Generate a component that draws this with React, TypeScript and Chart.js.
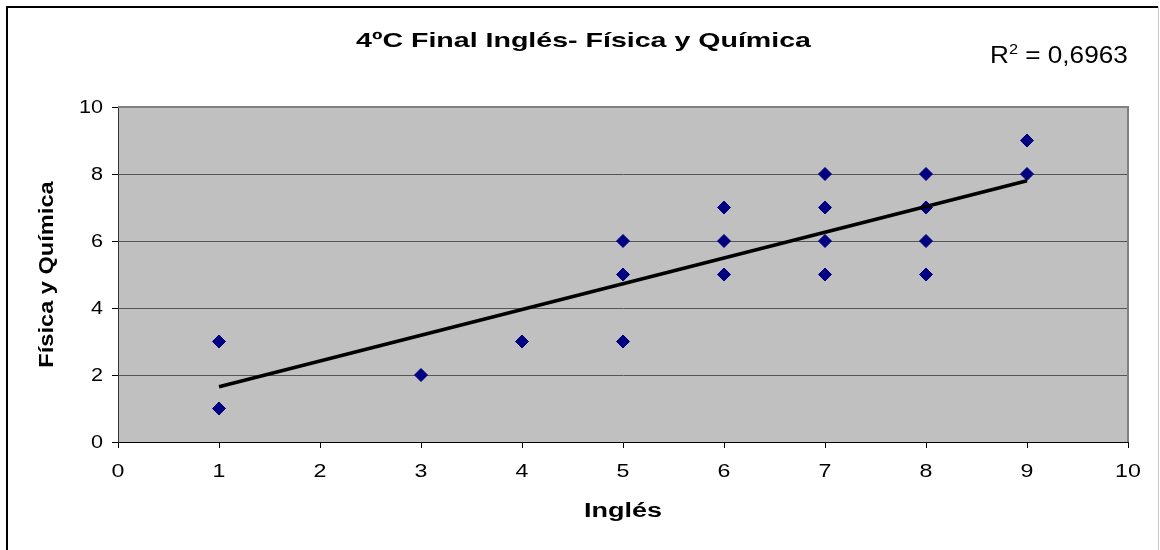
import React, { useEffect, useRef } from "react";
import { Chart, registerables } from "chart.js";

Chart.register(...registerables);

// Scores: English final grade (x) vs Physics & Chemistry final grade (y)
const inglesScores = [1, 1, 3, 4, 5, 5, 5, 6, 6, 6, 7, 7, 7, 7, 8, 8, 8, 8, 9, 9];
const fisicaQuimicaScores = [3, 1, 2, 3, 6, 5, 3, 7, 6, 5, 8, 7, 6, 5, 8, 7, 6, 5, 9, 8];

// Linear trendline end points
const trendX = [1, 9];
const trendY = [1.65, 7.8];

const xTickValues = [0, 1, 2, 3, 4, 5, 6, 7, 8, 9, 10];
const yTickValues = [0, 2, 4, 6, 8, 10];

const chartTitle = "4ºC Final Inglés- Física y Química";
const xAxisTitle = "Inglés";
const yAxisTitle = "Física y Química";
const rSquaredValue = "0,6963";

const FONT = "'Liberation Sans', Arial, sans-serif";

// Draws text squeezed/stretched horizontally around its anchor
function drawText(
  ctx: CanvasRenderingContext2D,
  text: string,
  x: number,
  y: number,
  font: string,
  sx: number,
  align: CanvasTextAlign
) {
  ctx.save();
  ctx.translate(x, y);
  ctx.scale(sx, 1);
  ctx.font = font;
  ctx.textAlign = align;
  ctx.textBaseline = "alphabetic";
  ctx.fillText(text, 0, 0);
  ctx.restore();
}

const decorPlugin = {
  id: "decor",
  beforeDraw(chart: any) {
    const { ctx, chartArea, width, height } = chart;
    ctx.save();
    ctx.fillStyle = "#ffffff";
    ctx.fillRect(0, 0, width, height);
    ctx.fillStyle = "#c0c0c0";
    ctx.fillRect(
      chartArea.left,
      chartArea.top,
      chartArea.right - chartArea.left,
      chartArea.bottom - chartArea.top
    );
    ctx.restore();
  },
  afterDraw(chart: any) {
    const { ctx, chartArea } = chart;
    const { left, right, top, bottom } = chartArea;
    const xScale = chart.scales.x;
    const yScale = chart.scales.y;
    ctx.save();

    // plot area top/right frame
    ctx.strokeStyle = "#808080";
    ctx.lineWidth = 2;
    ctx.beginPath();
    ctx.moveTo(left, top);
    ctx.lineTo(right, top);
    ctx.lineTo(right, bottom);
    ctx.stroke();

    // outer chart frame
    ctx.strokeStyle = "#000000";
    ctx.lineWidth = 2;
    ctx.beginPath();
    ctx.moveTo(7, 560);
    ctx.lineTo(7, 7);
    ctx.lineTo(1158, 7);
    ctx.stroke();
    ctx.strokeStyle = "#c8c8c8";
    ctx.lineWidth = 1;
    ctx.beginPath();
    ctx.moveTo(1158.5, 7);
    ctx.lineTo(1158.5, 560);
    ctx.stroke();

    ctx.fillStyle = "#000000";

    // tick labels
    yTickValues.forEach((v) => {
      const py = yScale.getPixelForValue(v);
      drawText(ctx, String(v), 103, py + 5.5, `18px ${FONT}`, 1.2, "right");
    });
    xTickValues.forEach((v) => {
      const px = xScale.getPixelForValue(v);
      drawText(ctx, String(v), px, 477, `19px ${FONT}`, 1.22, "center");
    });

    // title
    drawText(ctx, chartTitle, 583.5, 47, `bold 21px ${FONT}`, 1.36, "center");

    // R² label
    ctx.save();
    ctx.translate(990, 63);
    ctx.scale(1.09, 1);
    ctx.textBaseline = "alphabetic";
    ctx.textAlign = "left";
    let x = 0;
    ctx.font = `24px ${FONT}`;
    ctx.fillText("R", x, 0);
    x += ctx.measureText("R").width;
    ctx.font = `15px ${FONT}`;
    ctx.fillText("2", x, -9);
    x += ctx.measureText("2").width;
    ctx.font = `24px ${FONT}`;
    ctx.fillText(" = " + rSquaredValue, x, 0);
    ctx.restore();

    // x axis title
    drawText(ctx, xAxisTitle, (left + right) / 2, 517, `bold 20px ${FONT}`, 1.35, "center");

    // y axis title
    ctx.save();
    ctx.translate(53, (top + bottom) / 2);
    ctx.rotate(-Math.PI / 2);
    drawText(ctx, yAxisTitle, 0, 0, `bold 20px ${FONT}`, 1.18, "center");
    ctx.restore();

    ctx.restore();
  },
};

export default function App() {
  const canvasRef = useRef<HTMLCanvasElement | null>(null);

  useEffect(() => {
    if (!canvasRef.current) return;
    const chart = new Chart(canvasRef.current, {
      type: "scatter",
      data: {
        datasets: [
          {
            type: "scatter",
            label: "Física y Química",
            data: inglesScores.map((x, i) => ({ x, y: fisicaQuimicaScores[i] })),
            pointStyle: "rectRot",
            pointRadius: 6.5,
            pointBorderWidth: 1,
            backgroundColor: "#000080",
            borderColor: "#000080",
            order: 2,
          },
          {
            type: "line",
            label: "Lineal",
            data: trendX.map((x, i) => ({ x, y: trendY[i] })),
            borderColor: "#000000",
            borderWidth: 3.5,
            pointRadius: 0,
            fill: false,
            order: 1,
          } as any,
        ],
      },
      options: {
        animation: false,
        responsive: false,
        maintainAspectRatio: false,
        layout: { padding: { left: 0, top: 107, right: 32, bottom: 0 } },
        plugins: {
          legend: { display: false },
          title: { display: false },
          tooltip: { enabled: false },
        },
        scales: {
          x: {
            type: "linear",
            min: 0,
            max: 10,
            afterBuildTicks(scale: any) {
              scale.ticks = xTickValues.map((v) => ({ value: v }));
            },
            afterFit(scale: any) {
              scale.height = 108;
            },
            grid: {
              drawOnChartArea: false,
              drawTicks: true,
              tickLength: 6,
              tickColor: "#000000",
            },
            border: { color: "#000000", width: 1 },
            ticks: { display: false },
          },
          y: {
            type: "linear",
            min: 0,
            max: 10,
            afterBuildTicks(scale: any) {
              scale.ticks = yTickValues.map((v) => ({ value: v }));
            },
            afterFit(scale: any) {
              scale.width = 118;
            },
            grid: {
              color: "#555555",
              lineWidth: 1,
              drawTicks: true,
              tickLength: 6,
              tickColor: "#000000",
            },
            border: { color: "#333333", width: 1 },
            ticks: { display: false },
          },
        },
      },
      plugins: [decorPlugin],
    });
    return () => chart.destroy();
  }, []);

  return (
    <div style={{ position: "absolute", left: 0, top: 0, width: 1160, height: 550 }}>
      <canvas ref={canvasRef} width={1160} height={550} style={{ display: "block" }} />
    </div>
  );
}
